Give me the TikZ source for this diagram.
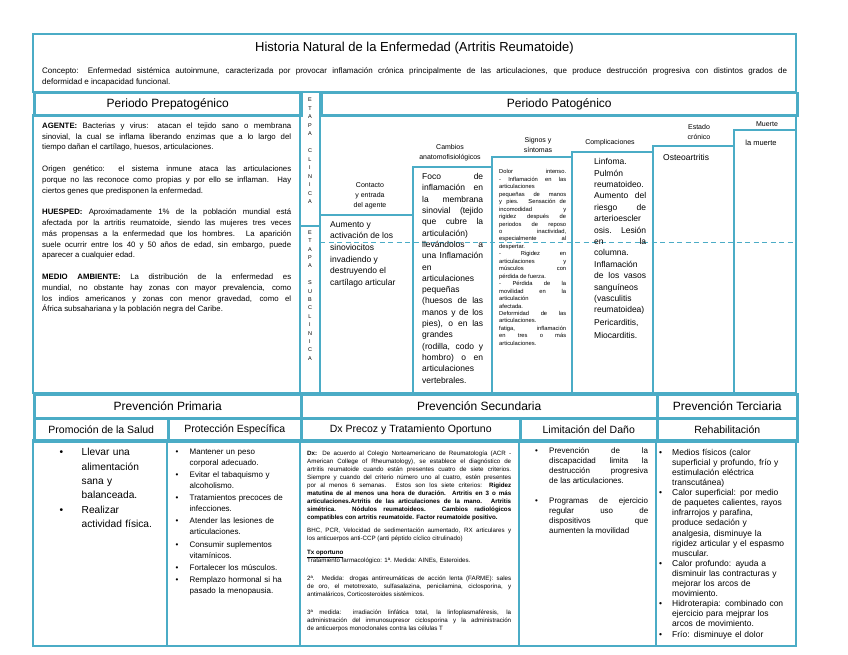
\documentclass[tikz,border=0pt]{standalone}
\usepackage{fontspec}
\setmainfont{Liberation Sans}
\usetikzlibrary{positioning}
\definecolor{turquesa}{HTML}{4BACC6}
\newcommand{\vin}[2][14pt]{\ifvmode\noindent\fi\hangindent=#1\hangafter=1\makebox[#1][l]{\textbullet}#2\par}

\begin{document}
\begin{tikzpicture}[x=1pt, y=-1pt,
  celda/.style={draw=turquesa, line width=2.5pt},
  cab/.style={celda, anchor=north west, inner sep=0pt, align=center},
  gran/.style={font=\fontsize{12}{14}\selectfont},
  media/.style={font=\fontsize{10.5}{12}\selectfont},
  etiq/.style={inner sep=0pt, align=center, font=\fontsize{7}{10}\selectfont},
  txt/.style={anchor=north west, inner sep=0pt, align=justify},
  izq/.style={anchor=north west, inner sep=0pt, align=left}]
  \useasboundingbox (0,0) rectangle (848,655);

  \draw[celda] (33,34) rectangle (796,92);
  \node[font=\fontsize{13}{15}\selectfont] (titulo) at (414.5,48) {Historia Natural de la Enfermedad (Artritis Reumatoide)};
  \node[txt, text width=745, font=\fontsize{8}{11}\selectfont] (concepto) at (42,67.5) {Concepto: Enfermedad sistémica autoinmune, caracterizada por provocar inflamación crónica principalmente de las articulaciones, que produce destrucción progresiva con distintos grados de\linebreak deformidad e incapacidad funcional.};

  \node[cab, gran, minimum width=267, minimum height=23] (prepat) at (33,92) {Periodo Prepatogénico};
  \node[cab, gran, minimum width=476, minimum height=23] (patog) at (320,92) {Periodo Patogénico};
  \draw[celda] (33,115) rectangle (300,393);
  \draw[celda] (300,92) rectangle (320,226);
  \draw[celda] (300,226) rectangle (320,393);
  \draw[celda] (320,115) rectangle (796,393);
  \draw[celda] (320,215) rectangle (413,393);
  \draw[celda] (413,167) rectangle (492,393);
  \draw[celda] (492,157) rectangle (572,393);
  \draw[celda] (572,152) rectangle (653,393);
  \draw[celda] (653,146) rectangle (734,393);
  \draw[celda] (734,130) rectangle (796,393);
  \coordinate (corteI) at (320,242);
  \coordinate (corteD) at (796,242);
  \draw[turquesa, line width=1pt, dash pattern=on 5pt off 3.5pt] (corteI) -- (corteD);

  \node[txt, text width=249, font=\fontsize{7.8}{10.8}\selectfont] (agente) at (42,122.5) {\textbf{AGENTE:} Bacterias y virus: atacan el tejido sano o membrana\linebreak sinovial, la cual se inflama liberando enzimas que a lo largo del\linebreak tiempo dañan el cartílago, huesos, articulaciones.\\[10.8pt]
  Origen genético: el sistema inmune ataca las articulaciones\linebreak porque no las reconoce como propias y por ello se inflaman. Hay\linebreak ciertos genes que predisponen la enfermedad.\\[10.8pt]
  \textbf{HUESPED:} Aproximadamente 1\% de la población mundial está\linebreak afectada por la artritis reumatoide, siendo las mujeres tres veces\linebreak más propensas a la enfermedad que los hombres. La aparición\linebreak suele ocurrir entre los 40 y 50 años de edad, sin embargo, puede\linebreak aparecer a cualquier edad.\\[10.8pt]
  \textbf{MEDIO AMBIENTE:} La distribución de la enfermedad es\linebreak mundial, no obstante hay zonas con mayor prevalencia, como\linebreak los indios americanos y zonas con menor gravedad, como el\linebreak África subsahariana y la población negra del Caribe.};

  \node[inner sep=0pt, align=center, font=\fontsize{5.5}{8.5}\selectfont] (etapaC) at (310,151) {E\\T\\A\\P\\A\\[8.5pt]C\\L\\I\\N\\I\\C\\A};
  \node[inner sep=0pt, align=center, font=\fontsize{5.5}{8.4}\selectfont] (etapaS) at (310,295.5) {E\\T\\A\\P\\A\\[8.4pt]S\\U\\B\\C\\L\\I\\N\\I\\C\\A};

  \node[etiq] (contacto) at (370,196) {Contacto\\y entrada\\del agente};
  \node[izq, font=\fontsize{8.5}{11.6}\selectfont] (aumento) at (330,221.3) {Aumento y\\activación de los\\sinoviocitos\\invadiendo y\\destruyendo el\\cartílago articular};
  \node[etiq] (cambios) at (450,153) {Cambios\\anatomofisiológicos};
  \node[txt, text width=61, font=\fontsize{8.5}{11.3}\selectfont] (foco) at (422,173.3) {Foco de\linebreak inflamación en\linebreak la membrana\linebreak sinovial (tejido\linebreak que cubre la\linebreak articulación)\linebreak llevándolos a\linebreak una Inflamación\linebreak en\linebreak articulaciones\linebreak pequeñas\linebreak (huesos de las\linebreak manos y de los\linebreak pies), o en las\linebreak grandes\linebreak (rodilla, codo y\linebreak hombro) o en\linebreak articulaciones\linebreak vertebrales.};
  \node[etiq] (signos) at (538,145) {Signos y\\síntomas};
  \node[txt, text width=67, font=\fontsize{5.8}{7.45}\selectfont] (sintomas) at (499,169.5) {Dolor intenso.\linebreak - Inflamación en las\linebreak articulaciones\linebreak pequeñas de manos\linebreak y pies. Sensación de\linebreak incomodidad y\linebreak rigidez después de\linebreak periodos de reposo\linebreak o inactividad,\linebreak especialmente al\linebreak despertar.\\ - Rigidez en\linebreak articulaciones y\linebreak músculos con\linebreak pérdida de fuerza.\\ - Pérdida de la\linebreak movilidad en la\linebreak articulación\linebreak afectada.\\ Deformidad de las\linebreak articulaciones.\\ fatiga, inflamación\linebreak en tres o más\linebreak articulaciones.};
  \node[etiq] (complic) at (610,143) {Complicaciones};
  \node[txt, text width=52, font=\fontsize{8.5}{11.4}\selectfont] (complicTxt) at (594,158.3) {Linfoma.\linebreak Pulmón\linebreak reumatoideo.\linebreak Aumento del\linebreak riesgo de\linebreak arterioescler\linebreak osis. Lesión\linebreak en la\linebreak columna.\linebreak Inflamación\linebreak de los vasos\linebreak sanguíneos\linebreak (vasculitis\linebreak reumatoidea)\\[1.6pt] Pericarditis,\\[1.6pt] Miocarditis.};
  \node[etiq] (estado) at (699,132) {Estado\\crónico};
  \node[anchor=west, inner sep=0pt, font=\fontsize{8.5}{10}\selectfont] (osteo) at (663,157) {Osteoartritis};
  \node[etiq] (muerte) at (767,124) {Muerte};
  \node[inner sep=0pt, font=\fontsize{7.5}{9}\selectfont] (laMuerte) at (761,143) {la muerte};

  \node[cab, gran, minimum width=267, minimum height=24] (primaria) at (33,393) {Prevención Primaria};
  \node[cab, gran, minimum width=356, minimum height=24] (secundaria) at (300,393) {Prevención Secundaria};
  \node[cab, gran, minimum width=140, minimum height=24] (terciaria) at (656,393) {Prevención Terciaria};
  \node[cab, media, minimum width=134, minimum height=23] (promocion) at (33,417) {Promoción de la Salud};
  \node[cab, media, minimum width=133, minimum height=23] (proteccion) at (167,417) {Protección Específica};
  \node[cab, media, minimum width=219, minimum height=23] (dx) at (300,417) {Dx Precoz y Tratamiento Oportuno};
  \node[cab, media, minimum width=137, minimum height=23] (limitacion) at (519,417) {Limitación del Daño};
  \node[cab, media, minimum width=140, minimum height=23] (rehab) at (656,417) {Rehabilitación};
  \draw[celda] (33,440) rectangle (167,646);
  \draw[celda] (167,440) rectangle (300,646);
  \draw[celda] (300,440) rectangle (519,646);
  \draw[celda] (519,440) rectangle (656,646);
  \draw[celda] (656,440) rectangle (796,646);

  \node[izq, text width=100, font=\fontsize{10.2}{14.3}\selectfont] (promocionTxt) at (59.5,448.3) {\vin[22pt]{Llevar una\newline alimentación\newline sana y\newline balanceada.}\vin[22pt]{Realizar\newline actividad física.}};
  \node[izq, text width=120, font=\fontsize{8}{11}\selectfont\setlength{\parskip}{1.2pt}] (proteccionTxt) at (175.5,448.6) {\vin{Mantener un peso\newline corporal adecuado.}\vin{Evitar el tabaquismo y\newline alcoholismo.}\vin{Tratamientos precoces de\newline infecciones.}\vin{Atender las lesiones de\newline articulaciones.}\vin{Consumir suplementos\newline vitamínicos.}\vin{Fortalecer los músculos.}\vin{Remplazo hormonal si ha\newline pasado la menopausia.}};
  \node[txt, text width=204, font=\fontsize{6.2}{8}\selectfont] (dxTxt) at (307,450.3) {\textbf{Dx:} De acuerdo al Colegio Norteamericano de Reumatología (ACR -\linebreak American College of Rheumatology), se establece el diagnóstico de\linebreak artritis reumatoide cuando están presentes cuatro de siete criterios.\linebreak Siempre y cuando del criterio número uno al cuatro, estén presentes\linebreak por al menos 6 semanas. Estos son los siete criterios: \textbf{Rigidez\linebreak matutina de al menos una hora de duración. Artritis en 3 o más\linebreak articulaciones.Artritis de las articulaciones de la mano. Artritis\linebreak simétrica. Nódulos reumatoideos. Cambios radiológicos\linebreak compatibles con artritis reumatoide. Factor reumatoide positivo.}\\[5pt]
  BHC, PCR, Velocidad de sedimentación aumentado, RX articulares y\linebreak los anticuerpos anti-CCP (anti péptido cíclico citrulinado)\\[6pt]
  \underline{\textbf{Tx oportuno}}\\
  Tratamiento farmacológico: 1ª. Medida: AINEs, Esteroides.\\[10pt]
  2ª. Medida: drogas antirreumáticas de acción lenta (FARME): sales\linebreak de oro, el metotrexato, sulfasalazina, penicilamina, ciclosporina, y\linebreak antimaláricos, Corticosteroides sistémicos.\\[10pt]
  3ª medida: irradiación linfática total, la linfoplasmaféresis, la\linebreak administración del inmunosupresor ciclosporina y la administración\linebreak de anticuerpos monoclonales contra las células T};
  \node[txt, text width=113, font=\fontsize{8}{10}\selectfont] (limitacionTxt) at (535,447.6) {\vin{Prevención de la\linebreak discapacidad limita la\linebreak destrucción progresiva\linebreak de las articulaciones.}\vspace{10pt}\vin{Programas de ejercicio\linebreak regular uso de\linebreak dispositivos que\linebreak aumenten la movilidad}};
  \node[izq, text width=133, font=\fontsize{8.5}{10.1}\selectfont] (rehabTxt) at (659,448.8) {\vin[13pt]{Medios físicos (calor\newline superficial y profundo, frío y\newline estimulación eléctrica\newline transcutánea)}\vin[13pt]{Calor superficial: por medio\newline de paquetes calientes, rayos\newline infrarrojos y parafina,\newline produce sedación y\newline analgesia, disminuye la\newline rigidez articular y el espasmo\newline muscular.}\vin[13pt]{Calor profundo: ayuda a\newline disminuir las contracturas y\newline mejorar los arcos de\newline movimiento.}\vin[13pt]{Hidroterapia: combinado con\newline ejercicio para mejprar los\newline arcos de movimiento.}\vin[13pt]{Frío: disminuye el dolor}};
\end{tikzpicture}
\end{document}
